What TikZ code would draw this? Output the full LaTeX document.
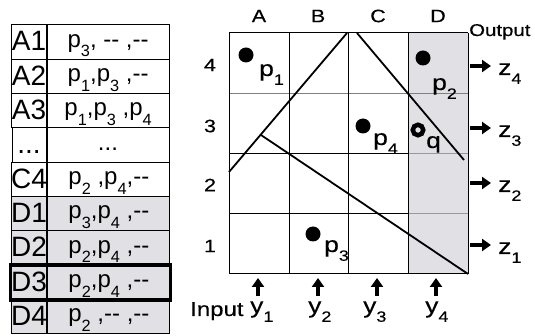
\documentclass[tikz,border=0pt]{standalone}
\usepackage{fontspec}
\setmainfont{Liberation Sans}
\newfontfamily\gridfont{Liberation Sans}[FakeStretch=1.2,FakeBold=0.3]
\usetikzlibrary{positioning,arrows.meta}
\definecolor{cellgray}{RGB}{225,224,228}
\newcommand{\sub}[1]{\raisebox{-0.4em}{\scalebox{0.68}{#1}}}
\newcommand{\skipdots}{...}
\tikzset{
  keycell/.style={draw, line width=1pt, inner sep=0pt, minimum width=34pt,
    minimum height=34.33pt, text height=25.7pt, text depth=8.63pt,
    font=\fontsize{28}{30}\selectfont},
  valcell/.style={draw, line width=1pt, inner sep=0pt, minimum width=122pt,
    minimum height=34.33pt, text height=22.2pt, text depth=12.13pt,
    font=\fontsize{24}{26}\selectfont},
  gridline/.style={line width=1pt},
  cut/.style={line width=1.8pt},
  axislbl/.style={inner sep=0pt, font=\gridfont\fontsize{18}{20}\selectfont},
  ptlbl/.style={inner sep=0pt, anchor=base west, font=\gridfont\fontsize{22}{24}\selectfont},
  dot/.style={circle, fill, inner sep=0pt, minimum size=15pt},
  hollow/.style={circle, draw, line width=4.5pt, inner sep=0pt, minimum size=10.5pt},
  outarrow/.style={line width=3.5pt, -{Triangle[length=9pt,width=12pt]}}
}
\begin{document}
\begin{tikzpicture}[x=1pt,y=-1pt]
  \useasboundingbox (0,0) rectangle (535,336);
  % lookup table
  \foreach \lab/\val/\bg [count=\i] in {A1/{p\sub{3}, -{}- ,-{}-}/white,
      A2/{p\sub{1},p\sub{3} ,-{}-}/white, A3/{p\sub{1},p\sub{3} ,p\sub{4}}/white,
      \skipdots/\skipdots/white, C4/{p\sub{2} ,p\sub{4},-{}-}/white,
      D1/{p\sub{3},p\sub{4} ,-{}-}/cellgray, D2/{p\sub{2},p\sub{4} ,-{}-}/cellgray,
      D3/{p\sub{2},p\sub{4} ,-{}-}/cellgray, D4/{p\sub{2} ,-{}- ,-{}-}/cellgray}{
    \pgfmathsetmacro\yc{25+34.33*(\i-0.5)}
    \node[keycell, fill=\bg] (k\i) at (29,\yc) {\lab};
    \node[valcell, fill=\bg, right=0pt of k\i] (v\i) {\val};
  }
  \draw[line width=3.5pt] (k8.north west) rectangle (v8.south east);
  % grid
  \fill[cellgray] (408,33) rectangle (468,274);
  \draw[gridline, gray] (229,94) -- (468,94);
  \foreach \y in {154,214} {
    \draw[gridline] (229,\y) -- (408,\y);
    \draw[gridline, gray!80] (408,\y) -- (468,\y);
  }
  \draw[gridline] (229,33) -- (468,33);
  \draw[gridline] (229,274) -- (468,274);
  \foreach \x in {229,289,348,408,468}
    \draw[gridline] (\x,33) -- (\x,274);
  \foreach \c/\x in {A/259,B/318,C/378,D/438}
    \node[axislbl] (col\c) at (\x,16) {\c};
  \foreach \r/\y in {4/65,3/126,2/185,1/246}
    \node[axislbl] (row\r) at (210,\y) {\r};
  % cutting lines
  \coordinate (c1) at (229,172); \coordinate (c2) at (347,33);
  \coordinate (c3) at (357,33);  \coordinate (c4) at (464,160);
  \coordinate (c5) at (261,135); \coordinate (c6) at (468,274);
  \draw[cut] (c1) -- (c2);
  \draw[cut] (c3) -- (c4);
  \draw[cut] (c5) -- (c6);
  % points
  \node[dot] (d1) at (246,55) {};  \node[ptlbl] (p1) at (259,76) {p\sub{1}};
  \node[dot] (d2) at (423,58) {};  \node[ptlbl] (p2) at (432,90) {p\sub{2}};
  \node[dot] (d3) at (313,234) {}; \node[ptlbl] (p3) at (324,252) {p\sub{3}};
  \node[dot] (d4) at (363,126) {}; \node[ptlbl] (p4) at (373,145) {p\sub{4}};
  \node[hollow] (dq) at (418,130) {}; \node[ptlbl] (q) at (426,148) {q};
  % outputs and inputs
  \node[ptlbl, font=\gridfont\fontsize{17}{19}\selectfont] (out) at (469,36) {Output};
  \node[ptlbl, font=\gridfont\fontsize{20}{22}\selectfont] (in) at (190,316) {Input};
  \foreach \k/\y in {4/66,3/128,2/183,1/245} {
    \coordinate (zs\k) at (470,\y);
    \node[ptlbl] (z\k) at (498,\y+9) {z\sub{\k}};
    \draw[outarrow, shorten >=7pt] (zs\k) -- (zs\k -| z\k.west);
  }
  \foreach \k/\x/\xl in {1/258/250,2/318/308,3/377/363,4/436/425} {
    \node[ptlbl] (y\k) at (\xl,313) {y\sub{\k}};
    \coordinate (yt\k) at (\x,278);
    \draw[outarrow, shorten <=5pt] (yt\k |- y\k.north) -- (yt\k);
  }
\end{tikzpicture}
\end{document}
